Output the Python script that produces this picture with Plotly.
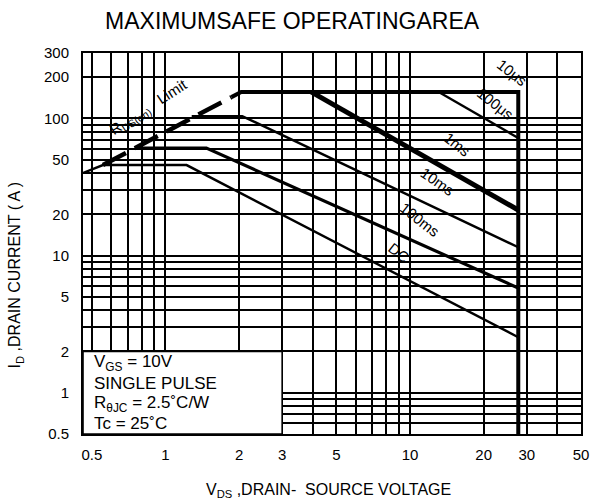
import math
import plotly.graph_objects as go

# ---------------- data ----------------
# Safe-operating boundary: end of R_DS(on) limit -> current plateau -> V_DSS limit
boundary_v = [1.86, 2.04, 27.7, 27.7]
boundary_i = [143, 156, 156, 0.5]

# R_DS(on) limit (dashed)
rds_v = [0.555, 1.86]
rds_i = [45.7, 143]

# pulse-width curves
us100_v = [13.1, 27.7]
us100_i = [156, 72]

ms1_v = [3.94, 27.7]
ms1_i = [156, 21.5]

ms10_v = [1.28, 2.06, 27.7]
ms10_i = [104, 104, 11.5]

ms100_v = [0.749, 1.47, 27.7]
ms100_i = [60.8, 60.8, 5.8]

dc_v = [0.46, 0.555, 1.22, 27.7]
dc_i = [40, 45.7, 45.7, 2.54]

# axes
x_grid = [0.5, 0.6, 0.7, 0.8, 0.9, 1, 2, 3, 4, 5, 6, 7, 8, 9, 10, 20, 30, 40, 50]
x_labels = {0.5: "0.5", 1: "1", 2: "2", 3: "3", 5: "5", 10: "10", 20: "20", 30: "30", 50: "50"}
y_grid = [0.5, 0.6, 0.7, 0.8, 0.9, 1, 2, 3, 4, 5, 6, 7, 8, 9, 10, 20, 30, 40, 50,
          60, 70, 80, 90, 100, 200, 300]
y_labels = {0.5: "0.5", 1: "1", 2: "2", 5: "5", 10: "10", 20: "20", 50: "50",
            100: "100", 200: "200", 300: "300"}
x_min, x_max = 0.46, 50
y_min, y_max = 0.5, 300

FONT = "Liberation Sans, Arial, sans-serif"

fig = go.Figure()


def add_line(v, i, width, dash="solid"):
    fig.add_trace(go.Scatter(x=v, y=i, mode="lines",
                             line=dict(color="black", width=width, dash=dash),
                             showlegend=False, hoverinfo="skip"))


add_line(dc_v, dc_i, 2.4)
add_line(ms100_v, ms100_i, 3.2)
add_line(ms10_v, ms10_i, 2.4)
add_line(ms1_v, ms1_i, 5)
add_line(us100_v, us100_i, 2.4)
add_line(rds_v, rds_i, 4.5, dash="26px,10px")
add_line(boundary_v, boundary_i, 4)

fig.update_xaxes(type="log", range=[math.log10(x_min), math.log10(x_max)],
                 tickvals=x_grid, ticktext=[x_labels.get(v, "") for v in x_grid],
                 showgrid=True, gridcolor="black", gridwidth=1.6,
                 showline=True, mirror=True, linecolor="black", linewidth=2,
                 ticks="", ticklabelstandoff=6,
                 tickfont=dict(family=FONT, size=15, color="black"))
fig.update_yaxes(type="log", range=[math.log10(y_min), math.log10(y_max)],
                 tickvals=y_grid, ticktext=[y_labels.get(v, "") for v in y_grid],
                 showgrid=True, gridcolor="black", gridwidth=1.6,
                 showline=True, mirror=True, linecolor="black", linewidth=2,
                 ticks="", ticklabelstandoff=9,
                 tickfont=dict(family=FONT, size=15, color="black"))

# white conditions box in lower-left
fig.add_shape(type="rect", xref="x", yref="y", x0=x_min, x1=3, y0=y_min, y1=2,
              fillcolor="white", line=dict(color="black", width=1.6), layer="above")

ann = []
cond = ["V<sub>GS</sub> = 10V", "SINGLE PULSE", "R<sub>θJC</sub> = 2.5˚C/W", "Tc = 25˚C"]
cond_y = [0.186, 0.132, 0.080, 0.028]
for t, yy in zip(cond, cond_y):
    ann.append(dict(text=t, x=0.018, y=yy, xref="paper", yref="paper",
                    xanchor="left", yanchor="middle", showarrow=False,
                    font=dict(family=FONT, size=17, color="black")))

labels = [("10μs", 0.862, 0.950, 38), ("100μs", 0.828, 0.868, 38),
          ("1ms", 0.752, 0.760, 38), ("10ms", 0.712, 0.662, 35),
          ("100ms", 0.676, 0.562, 38), ("DC", 0.634, 0.476, 38),
          ("R<sub>DS(on)</sub>   Limit", 0.132, 0.858, -33)]
for t, xx, yy, ang in labels:
    ann.append(dict(text=t, x=xx, y=yy, xref="paper", yref="paper",
                    xanchor="center", yanchor="middle", showarrow=False, textangle=ang,
                    font=dict(family=FONT, size=15, color="black")))

ann.append(dict(text="V<sub>DS</sub> ,DRAIN-  SOURCE VOLTAGE", x=0.492, y=-0.147,
                xref="paper", yref="paper", showarrow=False, xanchor="center", yanchor="middle",
                font=dict(family=FONT, size=16, color="black")))
ann.append(dict(text="I<sub>D</sub> ,DRAIN CURRENT ( A )", x=-0.136, y=0.417,
                xref="paper", yref="paper", showarrow=False, xanchor="center", yanchor="middle",
                textangle=-90, font=dict(family=FONT, size=16, color="black")))

fig.update_layout(
    width=601, height=499,
    margin=dict(l=83, r=18, t=53, b=65),
    paper_bgcolor="white", plot_bgcolor="white",
    title=dict(text="MAXIMUMSAFE OPERATINGAREA", x=0.486, y=0.958,
               xanchor="center", yanchor="middle",
               font=dict(family=FONT, size=23, color="black")),
    annotations=ann,
)

fig.write_html("out.html", config={"displayModeBar": False},
               post_script="document.body.style.margin='0';document.body.style.overflow='hidden';")
